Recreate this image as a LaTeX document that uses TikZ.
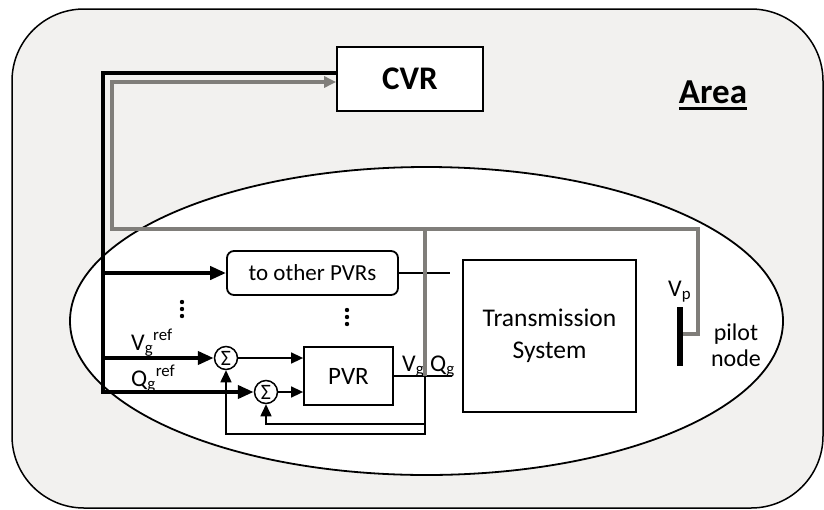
\documentclass[tikz,border=0pt]{standalone}
\usepackage{fontspec}
\setmainfont{Carlito}
\usetikzlibrary{arrows.meta}

\definecolor{areabg}{RGB}{242,241,239}
\definecolor{feedgray}{RGB}{128,126,122}
\newcommand{\pxsize}[1]{\fontsize{#1}{#1}\selectfont}
\newcommand{\ulbold}[1]{\setbox0=\hbox{#1}\rlap{\rule[-7pt]{\wd0}{3pt}}\box0}

\begin{document}
\begin{tikzpicture}[x=1pt,y=-1pt,
    blockbox/.style={draw,line width=1.8pt,fill=white,inner sep=0pt},
    sumnode/.style={draw,circle,line width=1.5pt,fill=white,minimum size=23pt,inner sep=0pt,font=\pxsize{22}},
    busline/.style={line width=4.5pt},
    feedline/.style={draw=feedgray,line width=4pt},
    sigline/.style={line width=1.5pt},
    bigtip/.style={-{Triangle[length=16pt,width=13pt]}},
    smalltip/.style={-{Triangle[length=12pt,width=11pt]}},
    lbl/.style={anchor=base west,inner sep=0pt,font=\pxsize{24}}]
    \useasboundingbox (0,0) rectangle (824,509);

    % area and the group of buses
    \draw[fill=areabg,line width=1.5pt,rounded corners=72pt] (12,9) rectangle (823,508);
    \draw[fill=white,line width=1.8pt] (426.5,321) ellipse [x radius=356.5pt,y radius=154pt];

    \node[blockbox,minimum width=146pt,minimum height=64pt,font=\bfseries\pxsize{33}] (cvr) at (410,79) {CVR};
    \node[anchor=base,inner sep=0pt,font=\bfseries\pxsize{35}] (area) at (713,103) {\ulbold{Area}};
    \node[blockbox,rounded corners=7pt,minimum width=171pt,minimum height=44pt,font=\pxsize{23}] (others) at (312.5,273) {to other PVRs};
    \node[blockbox,minimum width=89pt,minimum height=58pt,font=\pxsize{25}] (pvr) at (348.5,376) {PVR};
    \node[blockbox,minimum width=173pt,minimum height=152pt,align=center,font=\fontsize{25.5}{32}\selectfont] (trans) at (549.5,336) {Transmission\\System};
    \node[sumnode] (sum1) at (226,358) {\raisebox{-1pt}{Σ}};
    \node[sumnode] (sum2) at (266,392) {\raisebox{-1pt}{Σ}};
    \node[fill,inner sep=0pt,minimum width=6pt,minimum height=59pt] (pilotbar) at (680,336.5) {};

    \node[lbl] (vgref) at (131,350) {V\textsubscript{g}\textsuperscript{ref}};
    \node[lbl] (qgref) at (131,386) {Q\textsubscript{g}\textsuperscript{ref}};
    \node[lbl] (vg) at (402,371) {V\textsubscript{g}};
    \node[lbl] (qg) at (430,371) {Q\textsubscript{g}};
    \node[lbl] (vp) at (668,296) {V\textsubscript{p}};
    \node[align=center,font=\fontsize{24}{26}\selectfont] (pilotlbl) at (736,345) {pilot\\node};

    \foreach \d in {0,1,2} {
      \fill (182,302+\d*7) circle (2.2pt);
      \fill (347,310+\d*7) circle (2.2pt);
    }

    \coordinate (busend) at (103,392);
    \coordinate (fb) at (425,376);
    \coordinate (vgend) at (452,376);
    \coordinate (othersend) at (450,273);
    \coordinate (loopA) at (425,434);
    \coordinate (loopB) at (425,424);
    \coordinate (gl) at (112,229);
    \coordinate (gq) at (425,229);
    \coordinate (gr) at (698,229);
    \coordinate (ptap) at (698,334);

    \draw[sigline] (others.east) -- (othersend);
    \draw[sigline] (pvr.east) -- (vgend);
    \draw[sigline,smalltip] (sum1) -- (sum1 -| pvr.west);
    \draw[sigline,smalltip] (sum2) -- (sum2 -| pvr.west);
    \draw[sigline,smalltip] (fb) -- (loopA) -| (sum1);
    \draw[sigline,smalltip] (loopB) -| (sum2);

    \draw[busline,bigtip] ([yshift=6pt]cvr.west) -| (busend) -- (sum2);
    \draw[busline,bigtip] (busend |- others) -- (others);
    \draw[busline,bigtip] (busend |- sum1) -- (sum1);

    \draw[feedline,smalltip] (pilotbar.east |- ptap) -- (ptap) -- (gr) -- (gl) |- ([yshift=-3pt]cvr.west);
    \draw[feedline] (fb) -- (gq);
  \end{tikzpicture}
\end{document}
